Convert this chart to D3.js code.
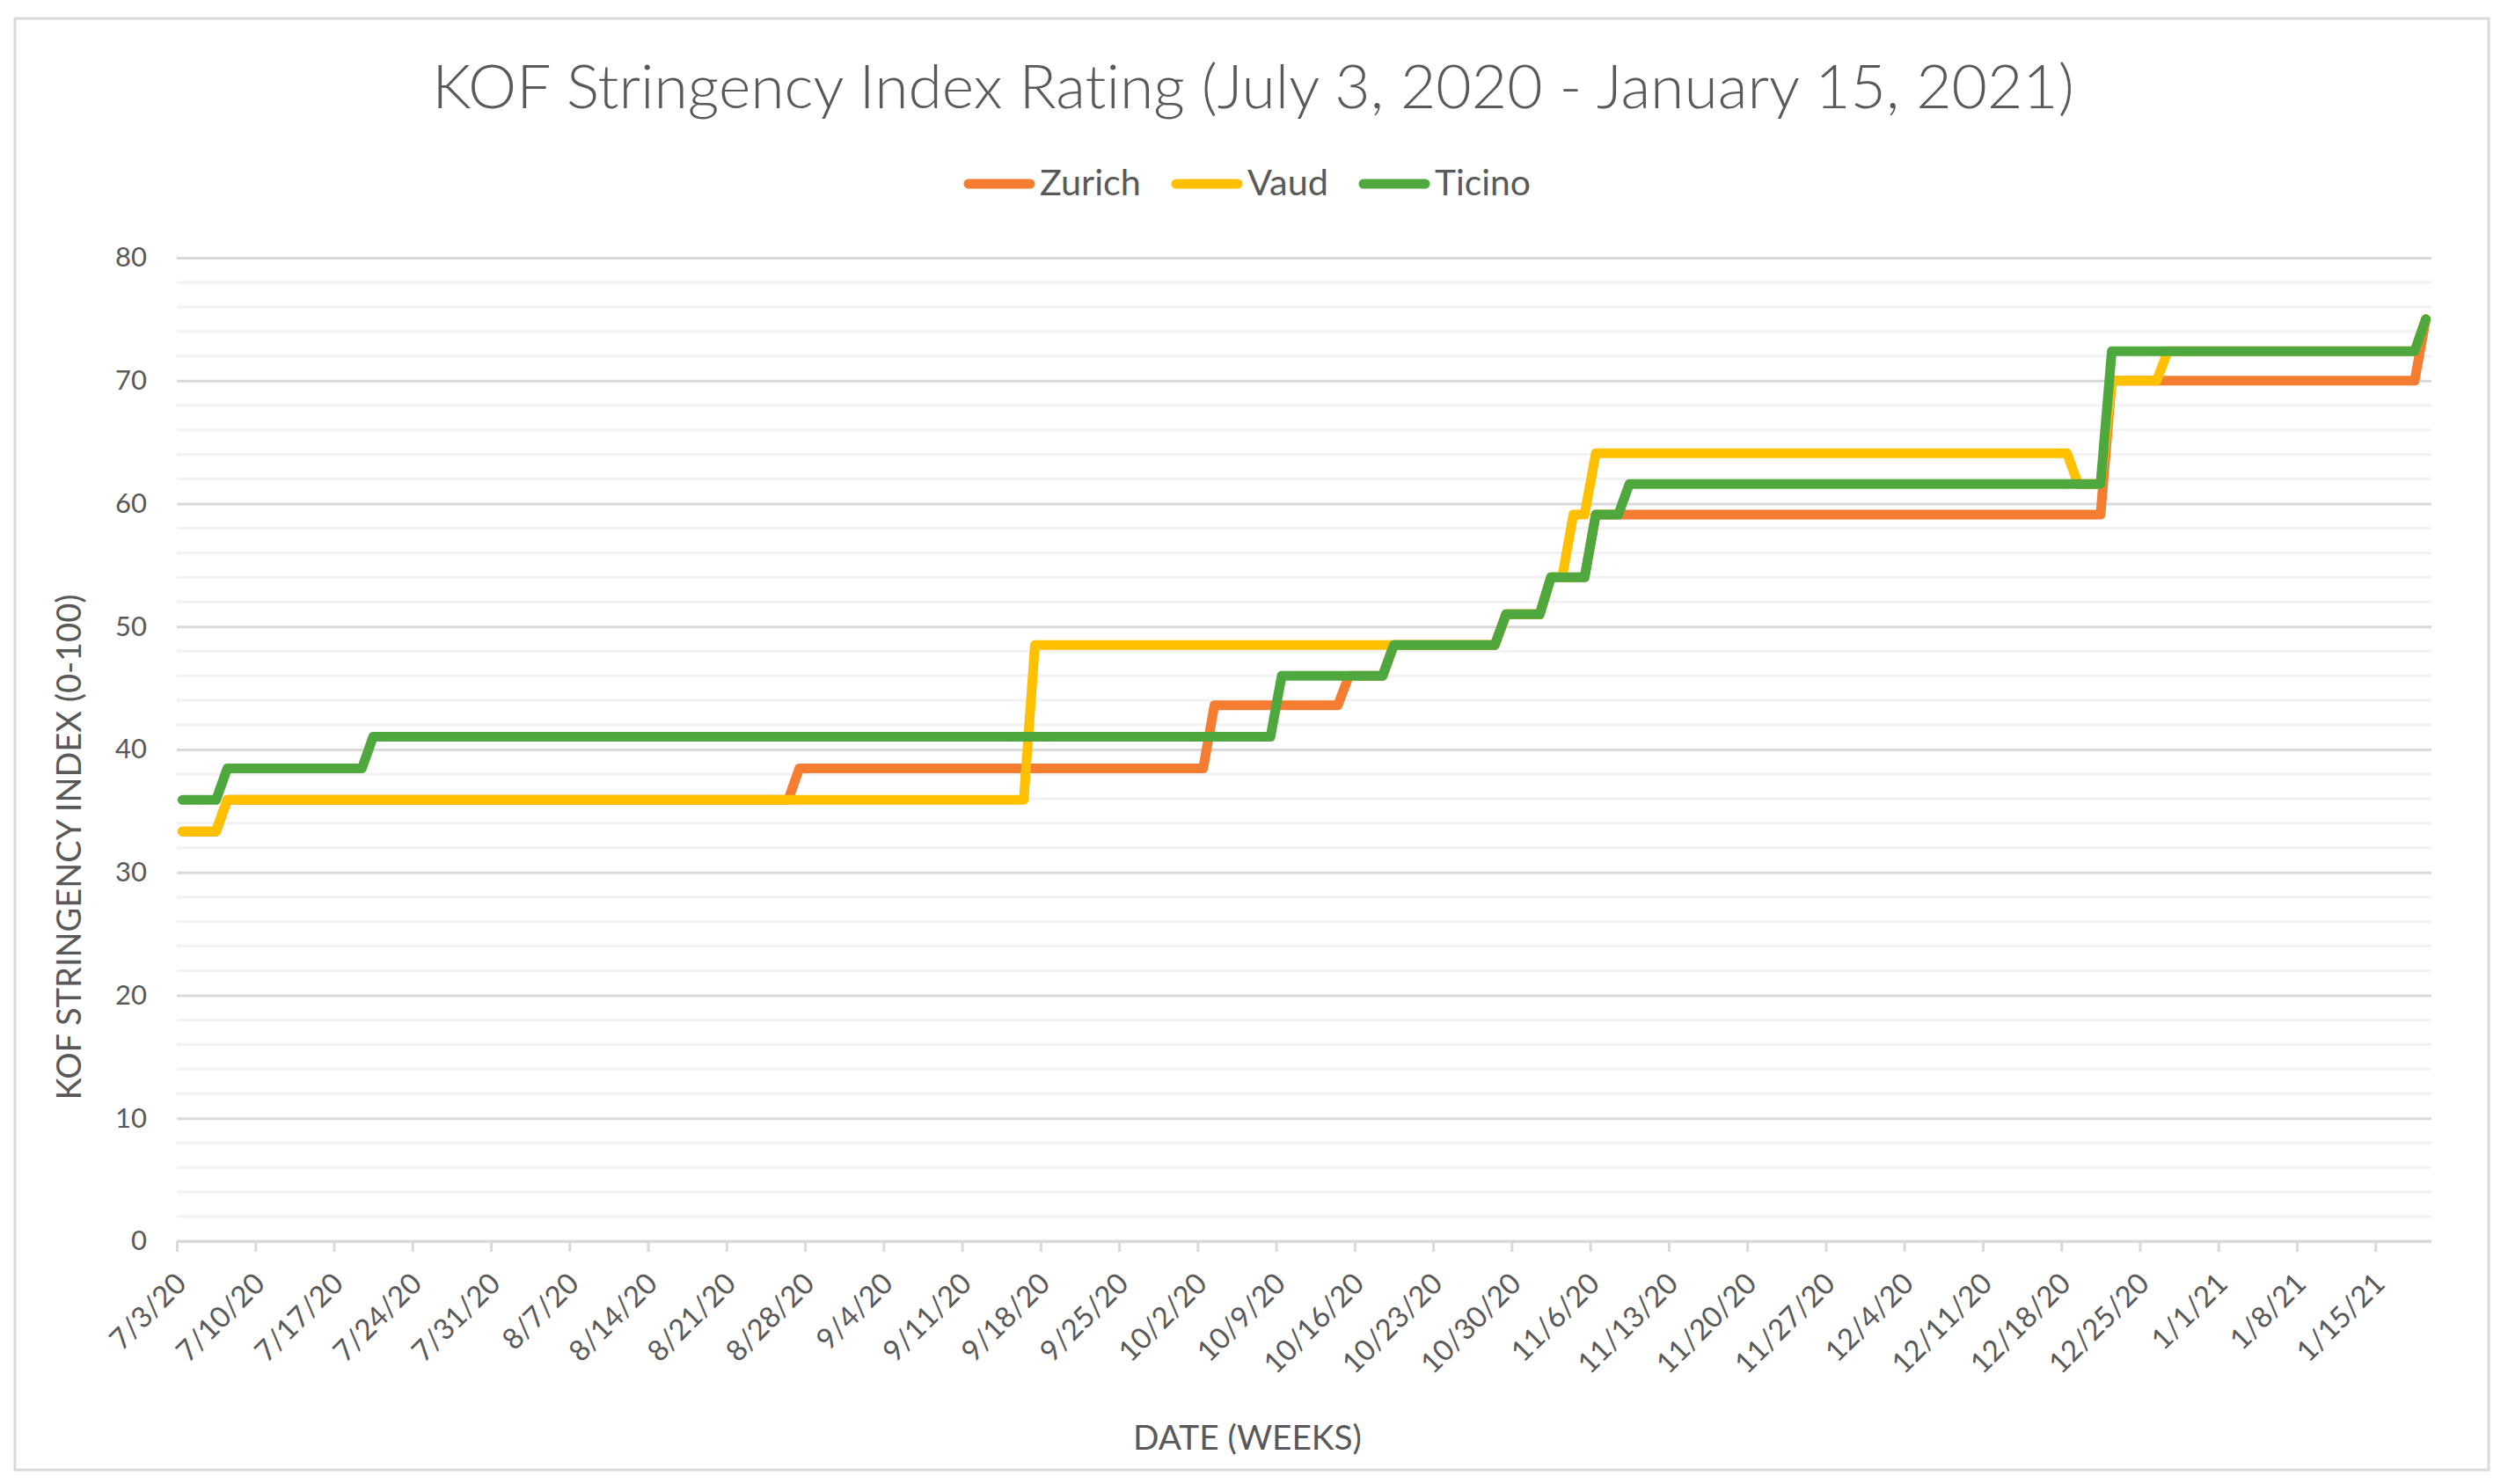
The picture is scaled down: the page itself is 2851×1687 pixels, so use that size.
<!DOCTYPE html>
<html>
<head>
<meta charset="utf-8">
<script src="https://cdn.jsdelivr.net/npm/d3@7"></script>
<style>
  body { margin: 0; background: #fff; }
  svg { display: block; }
  text { font-variant-ligatures: none; }
</style>
</head>
<body>
<div id="chart"></div>
<script>
// series data: value changes (date the new value starts, value)
const seriesNames = ["Zurich", "Vaud", "Ticino"];
const seriesColors = ["#F47D32", "#FFC000", "#4FA83D"];

const zurichDates = ["2020-07-03", "2020-07-07", "2020-08-27", "2020-10-03", "2020-10-15", "2020-10-19",
                     "2020-10-29", "2020-11-02", "2020-11-06", "2020-12-22", "2021-01-19"];
const zurichValues = [33.33, 35.9, 38.46, 43.59, 46.0, 48.5, 51.0, 54.0, 59.1, 70.0, 75.0];

const vaudDates = ["2020-07-03", "2020-07-07", "2020-09-17", "2020-10-29", "2020-11-02", "2020-11-04",
                   "2020-11-06", "2020-12-19", "2020-12-22", "2020-12-27", "2021-01-19"];
const vaudValues = [33.33, 35.9, 48.5, 51.0, 54.0, 59.1, 64.1, 61.6, 70.0, 72.4, 75.0];

const ticinoDates = ["2020-07-03", "2020-07-07", "2020-07-20", "2020-10-09", "2020-10-19", "2020-10-29",
                     "2020-11-02", "2020-11-06", "2020-11-09", "2020-12-22", "2021-01-19"];
const ticinoValues = [35.9, 38.46, 41.03, 46.0, 48.5, 51.0, 54.0, 59.1, 61.6, 72.4, 75.0];

const firstDate = "2020-07-03";
const lastDate = "2021-01-19";
const yTicks = [0, 10, 20, 30, 40, 50, 60, 70, 80];

const titulo = "KOF Stringency Index Rating (July 3, 2020 - January 15, 2021)";
const tituloY = "KOF STRINGENCY INDEX (0-100)";
const tituloX = "DATE (WEEKS)";

const W = 2851, H = 1687;
const area = { left: 201, right: 2764, top: 293, bottom: 1411 };
const fonte = "Lato, 'Open Sans', sans-serif";
const cinza = "#595959";

const parse = d3.utcParse("%Y-%m-%d");
const DIA = 24 * 3600 * 1000;
const fmtTick = d => `${d.getUTCMonth() + 1}/${d.getUTCDate()}/${String(d.getUTCFullYear()).slice(2)}`;

const svg = d3.select("#chart").append("svg")
    .attr("width", W)
    .attr("height", H);

svg.append("rect")
    .attr("x", 17).attr("y", 21)
    .attr("width", 2812).attr("height", 1650)
    .attr("fill", "#fff")
    .attr("stroke", "#d9d9d9")
    .attr("stroke-width", 3);

// each date takes one slot, the point sits in the middle of its slot
const x = d3.scaleUtc()
    .domain([parse(firstDate), new Date(parse(lastDate).getTime() + DIA)])
    .range([area.left, area.right]);

const y = d3.scaleLinear()
    .domain([0, 80])
    .range([area.bottom, area.top]);

function fitText(sel, largura) {
    const n = sel.node();
    const tam = parseFloat(sel.style("font-size"));
    const atual = n.getComputedTextLength();
    sel.style("font-size", (tam * largura / atual) + "px");
}

// minor gridlines
svg.append("g")
    .selectAll("line")
    .data(d3.range(2, 80, 2).filter(v => v % 10 !== 0))
    .enter().append("line")
    .attr("x1", area.left).attr("x2", area.right)
    .attr("y1", d => y(d)).attr("y2", d => y(d))
    .attr("stroke", "#f2f2f2")
    .attr("stroke-width", 3);

// major gridlines + y labels
const eixoY = d3.axisLeft(y)
    .tickValues(yTicks)
    .tickSize(-(area.right - area.left))
    .tickPadding(34);

svg.append("g")
    .attr("transform", `translate(${area.left},0)`)
    .call(eixoY)
    .call(g => g.select(".domain").remove())
    .call(g => g.selectAll(".tick line").attr("stroke", "#d9d9d9").attr("stroke-width", 3))
    .call(g => g.selectAll(".tick text")
        .style("font-family", fonte)
        .style("font-size", "31px")
        .attr("fill", cinza));

// x axis, one tick per week
const semanas = d3.range(0, 29).map(i => new Date(parse(firstDate).getTime() + i * 7 * DIA));

const eixoX = d3.axisBottom(x)
    .tickValues(semanas)
    .tickSize(12)
    .tickFormat(fmtTick);

svg.append("g")
    .attr("transform", `translate(0,${area.bottom})`)
    .call(eixoX)
    .call(g => g.select(".domain")
        .attr("d", `M${area.left},0H${area.right}`)
        .attr("stroke", "#d9d9d9").attr("stroke-width", 3))
    .call(g => g.selectAll(".tick line").attr("stroke", "#d9d9d9").attr("stroke-width", 3))
    .call(g => g.selectAll(".tick text")
        .style("font-family", fonte)
        .style("font-size", "33px")
        .attr("fill", cinza)
        .attr("text-anchor", "end")
        .attr("dy", "0.35em")
        .attr("transform", "translate(4,42) rotate(-45)")
        .attr("y", 0).attr("x", 0));

// lines
function montarPontos(datas, valores) {
    const pts = [];
    datas.forEach((d, i) => {
        const ini = parse(d);
        pts.push({ data: ini, valor: valores[i] });
        if (i < datas.length - 1) {
            const fim = new Date(parse(datas[i + 1]).getTime() - DIA);
            if (fim > ini) pts.push({ data: fim, valor: valores[i] });
        }
    });
    return pts;
}

const series = [
    montarPontos(zurichDates, zurichValues),
    montarPontos(vaudDates, vaudValues),
    montarPontos(ticinoDates, ticinoValues)
];

const linha = d3.line()
    .x(d => x(new Date(d.data.getTime() + DIA / 2)))
    .y(d => y(d.valor));

svg.append("g")
    .selectAll("path")
    .data(series)
    .enter().append("path")
    .attr("d", linha)
    .attr("fill", "none")
    .attr("stroke", (d, i) => seriesColors[i])
    .attr("stroke-width", 11)
    .attr("stroke-linejoin", "round")
    .attr("stroke-linecap", "round");

// title
const t = svg.append("text")
    .attr("x", 1424.5).attr("y", 123)
    .attr("text-anchor", "middle")
    .style("font-family", fonte)
    .style("font-weight", 300)
    .style("font-size", "70px")
    .attr("fill", cinza)
    .text(titulo);
fitText(t, 1867);

// legend
const legendaX = [1096, 1332, 1545];
const legendaLargura = [115, 92, 109];
const leg = svg.append("g");
seriesNames.forEach((nome, i) => {
    leg.append("line")
        .attr("x1", legendaX[i] + 5).attr("x2", legendaX[i] + 75)
        .attr("y1", 209).attr("y2", 209)
        .attr("stroke", seriesColors[i])
        .attr("stroke-width", 11)
        .attr("stroke-linecap", "round");
    const tx = leg.append("text")
        .attr("x", legendaX[i] + 86).attr("y", 222)
        .style("font-family", fonte)
        .style("font-size", "40px")
        .attr("fill", cinza)
        .text(nome);
    fitText(tx, legendaLargura[i]);
});

// axis titles
const ty = svg.append("text")
    .attr("transform", "translate(92,963) rotate(-90)")
    .attr("text-anchor", "middle")
    .style("font-family", fonte)
    .style("font-size", "38px")
    .attr("fill", cinza)
    .text(tituloY);
fitText(ty, 575);

const tx = svg.append("text")
    .attr("x", 1418).attr("y", 1648)
    .attr("text-anchor", "middle")
    .style("font-family", fonte)
    .style("font-size", "38px")
    .attr("fill", cinza)
    .text(tituloX);
fitText(tx, 260);
</script>
</body>
</html>
